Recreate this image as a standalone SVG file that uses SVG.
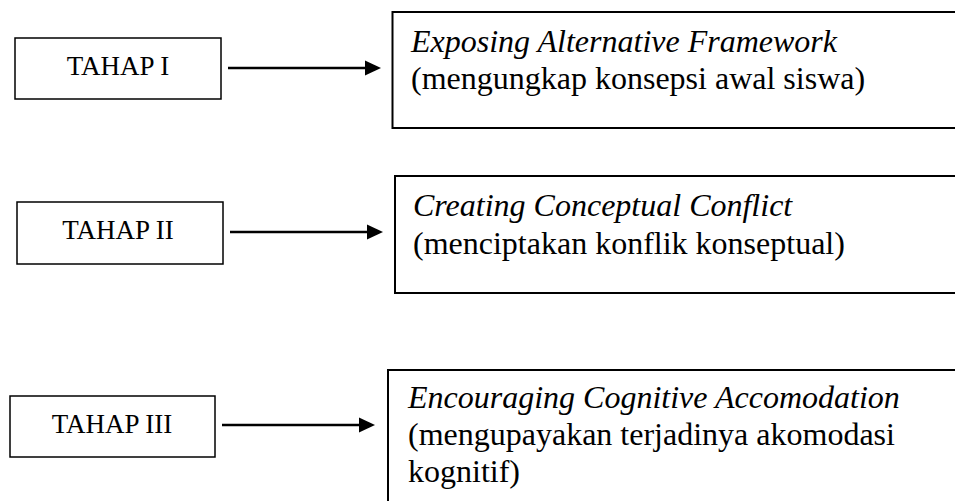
<svg xmlns="http://www.w3.org/2000/svg" width="955" height="501" viewBox="0 0 955 501">
<style>
.box{fill:#fff;stroke:#000;stroke-width:1.5}
.rbox{fill:#fff;stroke:#000;stroke-width:2}
.lbl{font-family:"Liberation Serif","Times New Roman",serif;font-size:27px;fill:#000;text-anchor:middle}
.txt{font-family:"Liberation Serif","Times New Roman",serif;font-size:32px;fill:#000}
.it{font-style:italic}
.conn{stroke:#000;stroke-width:2.5;fill:none}
.head{fill:#000}
</style>
<rect width="955" height="501" fill="#fff"/>
<g id="tahap1">
<rect class="box" x="15" y="38" width="206" height="61"/>
<text class="lbl" x="118" y="75">TAHAP I</text>
</g>
<g id="stage1">
<rect class="rbox" x="392.5" y="12" width="580" height="116"/>
<text class="txt" x="411" y="52"><tspan class="it">Exposing Alternative Framework</tspan><tspan x="411" y="89">(mengungkap konsepsi awal siswa)</tspan></text>
</g>
<g id="tahap2">
<rect class="box" x="17" y="202" width="206" height="62"/>
<text class="lbl" x="118" y="239">TAHAP II</text>
</g>
<g id="stage2">
<rect class="rbox" x="395" y="176" width="580" height="117"/>
<text class="txt" x="413" y="216"><tspan class="it">Creating Conceptual Conflict</tspan><tspan x="413" y="254">(menciptakan konflik konseptual)</tspan></text>
</g>
<g id="tahap3">
<rect class="box" x="10" y="396" width="205" height="61"/>
<text class="lbl" x="112" y="433">TAHAP III</text>
</g>
<g id="stage3">
<rect class="rbox" x="388" y="370" width="580" height="160"/>
<text class="txt" x="408" y="408"><tspan class="it">Encouraging Cognitive Accomodation</tspan><tspan x="408" y="445">(mengupayakan terjadinya akomodasi</tspan><tspan x="408" y="482">kognitif)</tspan></text>
</g>
<g id="connectors">
<path d="M228 68 L366 68" class="conn"/>
<path class="head" d="M365 60.5 L381 68 L365 75.5 Z"/>
<path d="M230 232 L368 232" class="conn"/>
<path class="head" d="M367 224.5 L383 232 L367 239.5 Z"/>
<path d="M222 425 L360 425" class="conn"/>
<path class="head" d="M359 417.5 L375 425 L359 432.5 Z"/>
</g>
</svg>
